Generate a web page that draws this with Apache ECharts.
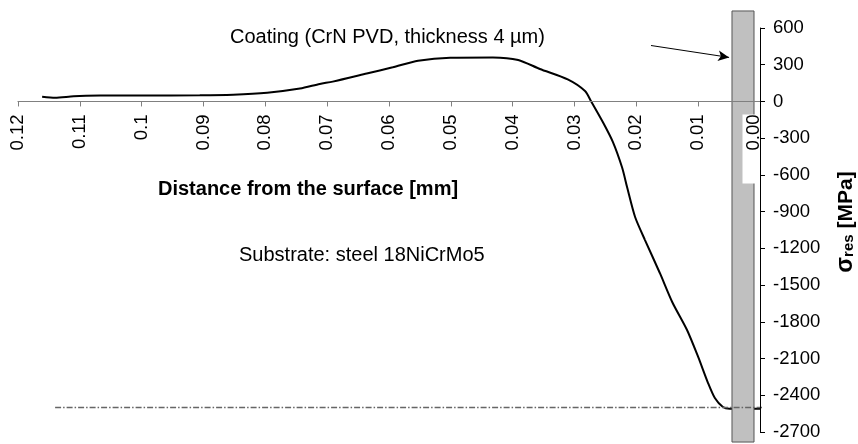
<!DOCTYPE html>
<html>
<head>
<meta charset="utf-8">
<script src="https://cdn.jsdelivr.net/npm/echarts@6/dist/echarts.min.js"></script>
<style>
  html, body { margin: 0; padding: 0; background: #fff; }
  #chart { width: 858px; height: 444px; }
</style>
</head>
<body>
<div id="chart"></div>
<script>
// ---- data ----
// distance from the surface [mm]
var distance = [0.1161, 0.1140, 0.1110, 0.1067, 0.1000, 0.0906, 0.0852, 0.0797, 0.0744, 0.0712,
  0.0691, 0.0636, 0.0594, 0.0553, 0.0501, 0.0432, 0.0391, 0.0356, 0.0311, 0.0283,
  0.0273, 0.0254, 0.0238, 0.0223, 0.0215, 0.0202, 0.0186, 0.0162, 0.0142, 0.0118,
  0.0100, 0.0084, 0.0073, 0.0060, 0.0049, 0.0030, 0.0010, 0.0000];
// residual stress [MPa]
var stress = [38, 30, 42, 48, 49, 50, 55, 71, 105, 143,
  162, 228, 279, 333, 358, 360, 339, 265, 180, 85,
  0, -170, -330, -540, -699, -944, -1132, -1401, -1638, -1867,
  -2087, -2300, -2423, -2496, -2510, -2510, -2510, -2510];
var xTickLabels = ['0.00', '0.01', '0.02', '0.03', '0.04', '0.05', '0.06', '0.07', '0.08', '0.09', '0.1', '0.11', '0.12'];
var yTicks = [-2700, -2400, -2100, -1800, -1500, -1200, -900, -600, -300, 0, 300, 600];
var yMin = -2700, yMax = 600;
// coating band: [x from, x to, y top, y bottom]
var coatingBand = [0.00453, 0.00097, 739, -2782];
// reference level (dash-dot)
var refLine = [[0.114, -2500], [-0.005, -2500]];
// arrow pointing to coating
var arrowFrom = [0.01763, 457];
var arrowTo = [0.0050, 360];

var FONT = 'Liberation Sans, Arial, sans-serif';
var GRID = { left: 18, right: 98, top: 28, bottom: 12 };
var H = 444;
var plotH = H - GRID.top - GRID.bottom;
// lift the x axis from the grid bottom to the y = 0 level
var xAxisOffset = -plotH * (0 - yMin) / (yMax - yMin);

var chart = echarts.init(document.getElementById('chart'), null, { renderer: 'canvas' });

var option = {
  animation: false,
  backgroundColor: '#ffffff',
  grid: { left: GRID.left, right: GRID.right, top: GRID.top, bottom: GRID.bottom, containLabel: false, outerBoundsMode: 'none' },
  xAxis: {
    type: 'value',
    inverse: true,
    min: 0,
    max: 0.12,
    interval: 0.01,
    position: 'bottom',
    offset: xAxisOffset,
    z: 5,
    axisLine: { onZero: false, lineStyle: { color: '#808080', width: 1.2 } },
    axisTick: { show: true, inside: false, length: 5, lineStyle: { color: '#808080' } },
    splitLine: { show: false },
    axisLabel: {
      rotate: 90,
      margin: 13,
      color: '#000',
      fontFamily: FONT,
      fontSize: 18.5,
      formatter: function (v) {
        var i = Math.round(v * 100);
        var s = xTickLabels[i];
        return i === 0 ? '{z|' + s + '}' : s;
      },
      rich: {
        z: { backgroundColor: '#ffffff', padding: [2, 0, 14, 33], color: '#000', fontFamily: FONT, fontSize: 18.5 }
      }
    }
  },
  yAxis: {
    type: 'value',
    position: 'right',
    min: yMin,
    max: yMax,
    interval: 300,
    z: 6,
    axisLine: { show: true, onZero: false, lineStyle: { color: '#000', width: 1 } },
    axisTick: { show: true, inside: false, length: 5, lineStyle: { color: '#000' } },
    splitLine: { show: false },
    axisLabel: {
      margin: 13,
      color: '#000',
      fontFamily: FONT,
      fontSize: 18.5,
      formatter: function (v) { return yTicks.indexOf(v) >= 0 ? String(v) : ''; }
    }
  },
  series: [
    {
      type: 'line',
      z: 2,
      data: distance.map(function (d, i) { return [d, stress[i]]; }),
      smooth: 0.25,
      symbol: 'none',
      clip: false,
      lineStyle: { color: '#000', width: 2 },
      markLine: {
        silent: true,
        symbol: ['none', 'arrow'],
        symbolSize: [8, 11],
        label: { show: false },
        lineStyle: { color: '#000', width: 1, type: 'solid' },
        data: [[{ coord: arrowFrom }, { coord: arrowTo }]]
      }
    },
    {
      type: 'custom',
      z: 3,
      clip: false,
      data: [coatingBand],
      renderItem: function (params, api) {
        var p1 = api.coord([api.value(0), api.value(2)]);
        var p2 = api.coord([api.value(1), api.value(3)]);
        var x = Math.min(p1[0], p2[0]), y = Math.min(p1[1], p2[1]);
        return {
          type: 'rect',
          shape: { x: x, y: y, width: Math.abs(p2[0] - p1[0]), height: Math.abs(p2[1] - p1[1]) },
          style: { fill: '#c0c0c0', stroke: '#555555', lineWidth: 1 }
        };
      }
    },
    {
      type: 'line',
      z: 4,
      data: refLine,
      symbol: 'none',
      clip: false,
      lineStyle: { color: '#666666', width: 1.5, type: [6, 2, 1.5, 2] }
    }
  ],
  graphic: [
    {
      type: 'text', left: 230, top: 27, z: 10,
      style: { text: 'Coating (CrN PVD, thickness 4 µm)', fill: '#000', font: '20px ' + FONT }
    },
    {
      type: 'text', left: 158, top: 179, z: 10,
      style: { text: 'Distance from the surface [mm]', fill: '#000', font: 'bold 20px ' + FONT }
    },
    {
      type: 'text', left: 239, top: 245, z: 10,
      style: { text: 'Substrate: steel 18NiCrMo5', fill: '#000', font: '20px ' + FONT }
    },
    {
      type: 'text', x: 846, y: 222, rotation: Math.PI / 2, z: 10,
      style: {
        text: '{s|σ}{r|res}{n| [MPa]}',
        align: 'center', verticalAlign: 'middle',
        rich: {
          s: { font: 'bold 23px ' + FONT, fill: '#000' },
          r: { font: 'bold 15px ' + FONT, fill: '#000', padding: [6, 0, 0, 0] },
          n: { font: 'bold 21px ' + FONT, fill: '#000' }
        }
      }
    }
  ]
};

chart.setOption(option);
</script>
</body>
</html>
